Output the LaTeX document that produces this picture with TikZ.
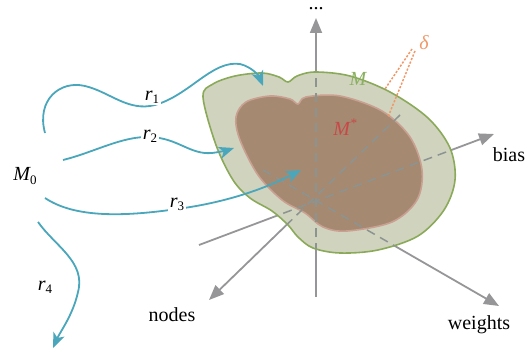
\documentclass[tikz,border=0pt]{standalone}
\usepackage{fontspec}
\setmainfont{Liberation Serif}
\usetikzlibrary{arrows.meta}
\definecolor{axisgray}{RGB}{150,150,153}
\definecolor{dashgray}{RGB}{140,148,146}
\definecolor{cyanc}{RGB}{74,166,187}
\definecolor{outerfill}{RGB}{208,211,190}
\definecolor{outerline}{RGB}{138,170,90}
\definecolor{innerfill}{RGB}{165,137,113}
\definecolor{innerline}{RGB}{201,160,145}
\definecolor{mgreen}{RGB}{138,176,96}
\definecolor{mred}{RGB}{200,72,72}
\definecolor{dorange}{RGB}{240,152,104}
\newcommand{\mysub}[1]{\raisebox{-0.35ex}{\fontsize{13}{13}\selectfont #1}}
\newcommand{\mysup}[1]{\raisebox{0.9ex}{\fontsize{13}{13}\selectfont #1}}
\begin{document}
\begin{tikzpicture}[x=1pt,y=-1pt,
  axis/.style={draw=axisgray, line width=1.8pt, -{Triangle[length=15pt,width=12pt]}},
  inaxis/.style={draw=dashgray, line width=1.5pt, dash pattern=on 9pt off 6pt},
  traj/.style={draw=cyanc, line width=1.8pt, -{Stealth[length=15pt,width=12pt,inset=4pt]}},
  lbl/.style={font=\fontsize{20}{24}\selectfont, inner sep=1pt},
  rlbl/.style={lbl, fill=white, inner sep=1.5pt},
  dlines/.style={draw=dorange, line width=1.5pt, dash pattern=on 2.2pt off 1.6pt}]
\useasboundingbox (0,0) rectangle (527,358);
% axis coordinates
\coordinate (vb) at (316,297);
\coordinate (vt) at (316,18);
\coordinate (nb) at (400,115);
\coordinate (nt) at (209,300);
\coordinate (bb) at (199,245);
\coordinate (bt) at (494,134);
\coordinate (wb) at (263,170);
\coordinate (wt) at (499,306);
% solid axes
\draw[axis] (vb) -- (vt);
\draw[axis] (nb) -- (nt);
\draw[axis] (bb) -- (bt);
\draw[axis] (wb) -- (wt);
% outer blob
\filldraw[fill=outerfill, draw=outerline, line width=1.6pt]
  plot[smooth cycle, tension=0.55] coordinates {(203,97) (213,84) (235,76) (262,73) (279,77) (288,82) (297,76) (315,72) (350,76) (390,92) (428,118) (450,148) (455,180) (444,210) (418,236) (378,250) (340,253) (313,248) (298,237) (288,225) (272,211) (250,198) (233,180) (216,145)};
% inner blob
\filldraw[fill=innerfill, draw=innerline, line width=1.6pt]
  plot[smooth cycle, tension=0.55] coordinates {(236,117) (246,102) (270,96) (290,99) (298,104) (306,97) (340,96) (382,111) (410,137) (422,170) (417,200) (392,222) (347,231) (323,227) (305,213) (282,200) (258,175) (240,140)};
% dashed axes inside blob
\begin{scope}
\clip plot[smooth cycle, tension=0.55] coordinates {(203,97) (213,84) (235,76) (262,73) (279,77) (288,82) (297,76) (315,72) (350,76) (390,92) (428,118) (450,148) (455,180) (444,210) (418,236) (378,250) (340,253) (313,248) (298,237) (288,225) (272,211) (250,198) (233,180) (216,145)};
\draw[inaxis] (vb) -- (vt);
\draw[inaxis] (nb) -- (nt);
\draw[inaxis] (bb) -- (bt);
\draw[inaxis] (wb) -- (wt);
\end{scope}
% delta
\node[lbl, text=dorange, font=\fontsize{20}{24}\selectfont\itshape] (delta) at (424,43) {δ};
\coordinate (d1) at (412,49);
\coordinate (d2) at (415,51);
\coordinate (dout) at (385,89);
\coordinate (din) at (388,117);
\draw[dlines] (d1) -- (dout);
\draw[dlines] (d2) -- (din);
% labels
\node[lbl, anchor=base, text height=3pt, text depth=0pt, inner sep=0pt] (dots) at (316,10) {...};
\node[lbl, text=mgreen] (Mlab) at (358,79) {\itshape M};
\node[lbl, text=mred] (Mstar) at (345,127) {\itshape M\mysup{*}};
\node[lbl] (nodes) at (172,315) {nodes};
\node[lbl] (weights) at (479,325) {weights};
\node[lbl] (bias) at (509,155) {bias};
\node[lbl] (M0) at (25,176) {\itshape M\upshape\mysub{0}};
% trajectories
\coordinate (s1) at (45,133);
\coordinate (e1) at (263,86);
\coordinate (s2) at (63,160);
\coordinate (e2) at (234,148);
\coordinate (s3) at (45,198);
\coordinate (e3) at (301,170);
\coordinate (s4) at (38,222);
\coordinate (e4) at (53,348);
\draw[traj] (s1) .. controls (36,100) and (60,80) .. (85,86) .. controls (110,92) and (128,112) .. (155,105) .. controls (190,95) and (212,60) .. (240,64) .. controls (252,67) and (259,76) .. (e1);
\draw[traj] (s2) .. controls (95,152) and (122,136) .. (150,137) .. controls (178,138) and (190,155) .. (212,153) .. controls (220,152) and (228,150) .. (e2);
\draw[traj] (s3) .. controls (72,216) and (115,218) .. (177,209) .. controls (230,202) and (268,187) .. (e3);
\draw[traj] (s4) .. controls (55,246) and (86,262) .. (78,292) .. controls (73,315) and (60,332) .. (e4);
% trajectory labels
\node[rlbl] (r1) at (152,97) {\itshape r\upshape\mysub{1}};
\node[rlbl] (r2) at (150,136) {\itshape r\upshape\mysub{2}};
\node[rlbl] (r3) at (177,204) {\itshape r\upshape\mysub{3}};
\node[lbl] (r4) at (45,287) {\itshape r\upshape\mysub{4}};
\end{tikzpicture}
\end{document}
